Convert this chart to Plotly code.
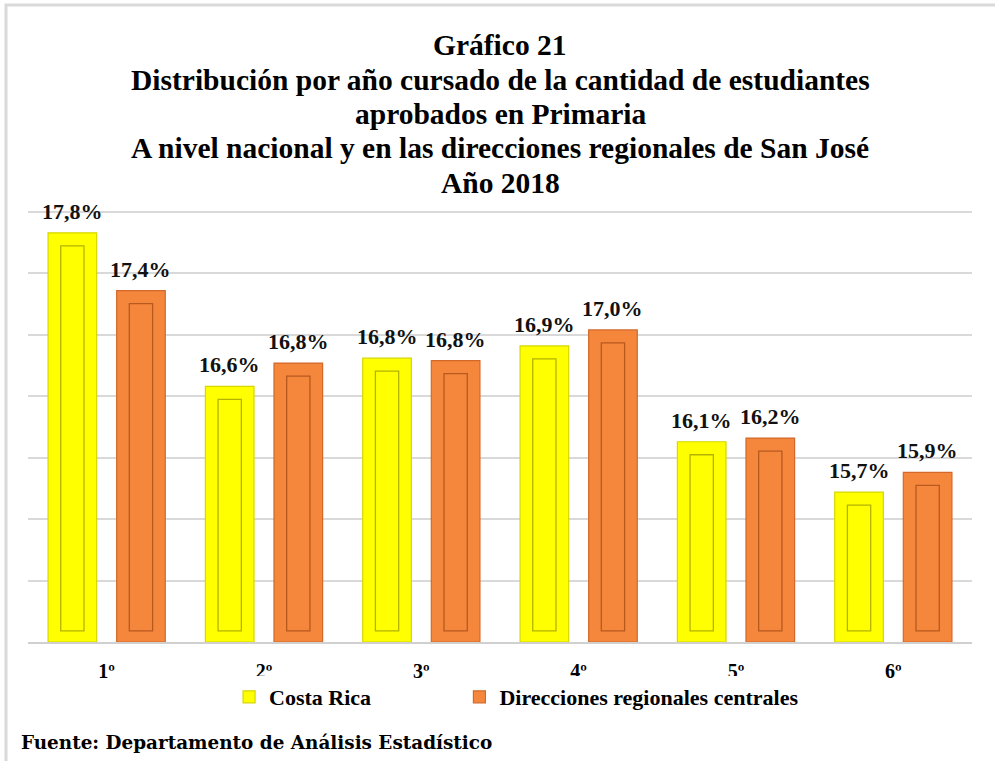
import plotly.graph_objects as go

# ---- data ----
categories = ["1º", "2º", "3º", "4º", "5º", "6º"]
costa_rica = [17.83, 16.58, 16.81, 16.91, 16.13, 15.72]
direcciones = [17.36, 16.77, 16.79, 17.04, 16.16, 15.88]
series_names = ["Costa Rica", "Direcciones regionales centrales"]

title_lines = [
    "Gráfico 21",
    "Distribución por año cursado de la cantidad de estudiantes",
    "aprobados en Primaria",
    "A nivel nacional y en las direcciones regionales de San José",
    "Año 2018",
]
footer = "Fuente: Departamento de Análisis Estadístico"

# ---- styling ----
Y_MIN, Y_MAX = 14.5, 18.0
BAR_W = 0.309
INNER_W = 0.148
CENTER_OFF = 0.218
INSET_TOP = 0.106
INSET_BOT = 0.09
PX_PER_CAT = 157.2
PLOT_TOP_PX, PLOT_BOT_PX = 210, 642
SERIF = "Liberation Serif, Times New Roman, serif"
TITLE_LINE_PX = [45, 80, 114, 148, 183]


def ypaper(px):
    return (PLOT_BOT_PX - px) / (PLOT_BOT_PX - PLOT_TOP_PX)


yellow, yellow_edge, yellow_inner = "#FFFF00", "#D6D600", "#B4B400"
orange, orange_edge, orange_inner = "#F4873C", "#D2692A", "#B8591E"


def fmt(v):
    return f"{v:.1f}".replace(".", ",") + "%"


fig = go.Figure()
annotations = []

for vals, name, face, edge, inner, sign, leg in [
    (costa_rica, series_names[0], yellow, yellow_edge, yellow_inner, -1, "legend"),
    (direcciones, series_names[1], orange, orange_edge, orange_inner, 1, "legend2"),
]:
    fig.add_trace(go.Bar(
        x=categories, y=[v - Y_MIN for v in vals], base=Y_MIN,
        name=name, legend=leg,
        width=BAR_W, offset=sign * CENTER_OFF - BAR_W / 2,
        marker=dict(color=face, line=dict(color=edge, width=1.2)),
        hoverinfo="skip",
    ))
    # inner bevel outline
    fig.add_trace(go.Bar(
        x=categories,
        y=[v - INSET_TOP - (Y_MIN + INSET_BOT) for v in vals],
        base=Y_MIN + INSET_BOT,
        width=INNER_W, offset=sign * CENTER_OFF - INNER_W / 2,
        marker=dict(color=face, line=dict(color=inner, width=1.3)),
        showlegend=False, hoverinfo="skip",
    ))
    for c, v in zip(categories, vals):
        annotations.append(dict(
            x=c, y=v, xref="x", yref="y", text=fmt(v), showarrow=False,
            xshift=sign * CENTER_OFF * PX_PER_CAT, yanchor="bottom", yshift=7,
            font=dict(family=SERIF, size=22, color="#111111", weight="bold"),
        ))

for line, ypx in zip(title_lines, TITLE_LINE_PX):
    annotations.append(dict(
        text=line, xref="paper", yref="paper", x=0.5, xanchor="center",
        y=ypaper(ypx), yanchor="middle", showarrow=False,
        font=dict(family=SERIF, size=29.5, color="#000000", weight="bold"),
    ))

annotations.append(dict(
    text=footer, xref="paper", yref="paper",
    x=-0.0095, xanchor="left", y=ypaper(742), yanchor="middle",
    showarrow=False,
    font=dict(family="DejaVu Serif, serif", size=18.4, color="#000000", weight="bold"),
))

legend_font = dict(family=SERIF, size=22, color="#000000", weight="bold")

fig.update_layout(
    width=995, height=761,
    barmode="overlay",
    paper_bgcolor="white", plot_bgcolor="white",
    margin=dict(l=28, r=23, t=PLOT_TOP_PX, b=761 - PLOT_BOT_PX, autoexpand=False),
    xaxis=dict(
        type="category", showgrid=False, ticks="",
        showline=True, linecolor="#d0d0d0", linewidth=2,
        ticklabelstandoff=10,
        tickfont=dict(family=SERIF, size=20, color="#000000", weight="bold"),
    ),
    yaxis=dict(
        range=[Y_MIN, Y_MAX + 0.016], dtick=0.5, tick0=Y_MIN,
        showticklabels=False, ticks="", zeroline=False,
        showgrid=True, gridcolor="#d9d9d9", gridwidth=1.5,
    ),
    legend=dict(
        orientation="h", x=0.213, xanchor="left", y=ypaper(697), yanchor="middle",
        font=legend_font, itemwidth=30,
    ),
    legend2=dict(
        orientation="h", x=0.457, xanchor="left", y=ypaper(697), yanchor="middle",
        font=legend_font, itemwidth=30,
    ),
    annotations=annotations,
    shapes=[dict(
        type="rect", xref="paper", yref="paper",
        x0=-0.0233, x1=1.1, y0=-0.35, y1=ypaper(5),
        line=dict(color="#d9d9d9", width=3), layer="below",
    )],
)

fig.write_html(
    "out.html",
    config={"displayModeBar": False},
    post_script="document.body.style.margin='0px';",
)
